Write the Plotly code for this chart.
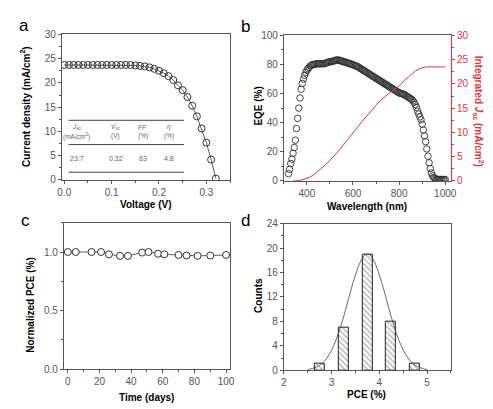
import plotly.graph_objects as go

# ---------------- data ----------------
# (a) J-V curve
jv_voltage = [0.00, 0.01, 0.02, 0.03, 0.04, 0.05, 0.06, 0.07, 0.08, 0.09, 0.10, 0.11,
              0.12, 0.13, 0.14, 0.15, 0.16, 0.17, 0.18, 0.19, 0.20, 0.21, 0.22, 0.23,
              0.24, 0.25, 0.26, 0.27, 0.28, 0.29, 0.30, 0.31, 0.32]
jv_current = [23.7, 23.7, 23.7, 23.7, 23.7, 23.7, 23.7, 23.7, 23.7, 23.7, 23.7, 23.7,
              23.7, 23.7, 23.7, 23.6, 23.5, 23.4, 23.2, 22.9, 22.5, 22.0, 21.4, 20.6,
              19.5, 18.5, 17.1, 15.3, 13.1, 10.6, 7.7, 4.2, 0.3]
table_headers = ["J<sub>sc</sub>", "V<sub>oc</sub>", "FF", "\u03b7"]
table_units = ["(mA/cm<sup>2</sup>)", "(V)", "(%)", "(%)"]
table_values = ["23.7", "0.32", "63", "4.8"]

# (b) EQE and integrated Jsc
eqe_wavelength = list(range(320, 1001, 5))
eqe_values = [5, 8, 12, 15, 19, 23, 28, 36, 43, 50,
              57, 63, 67, 70, 72.5, 74.5, 76, 77, 78, 79,
              79.5, 80, 80, 80, 80.5, 80.5, 80.5, 80.5, 80.5, 80.5,
              80.5, 80.5, 81, 81, 81.5, 81.5, 82, 82, 82, 82.5,
              82.5, 83, 83, 83, 83, 82.5, 82.5, 82, 82, 81.5,
              81.5, 81, 81, 80.5, 80.5, 80, 80, 79.5, 79, 79,
              78.5, 78, 77.5, 77, 76.5, 76, 75.5, 75, 74.5, 74,
              73.5, 73, 72.5, 72, 71.5, 71, 70.5, 70, 69.5, 69,
              68.5, 68, 67.5, 67, 66.5, 66, 65.5, 65, 64.5, 64,
              63.5, 63, 62.5, 62, 61.5, 61, 60.5, 60.2, 60, 59.8,
              59.5, 59, 58.5, 58, 57.5, 57, 56.5, 56, 55, 54,
              52.5, 50.5, 48, 46, 44, 42, 39, 35, 31, 27,
              22, 17, 12.5, 8.5, 5.5, 3.5, 2.5, 1.8, 1.3, 1,
              1, 1, 1, 1, 1, 1, 1]
jsc_wavelength = [340, 360, 380, 400, 420, 440, 460, 480, 500, 520, 540, 560, 580, 600,
                  620, 640, 660, 680, 700, 720, 740, 760, 780, 800, 820, 840, 860, 880,
                  900, 920, 940, 960, 980, 1000]
jsc_integrated = [0, 0.05, 0.25, 0.55, 1.0, 1.7, 2.5, 3.3, 4.3, 5.3, 6.3, 7.5, 8.7, 9.9,
                  11.1, 12.3, 13.4, 14.5, 15.6, 16.6, 17.4, 18.2, 18.9, 19.6, 20.6, 21.4, 22.2, 22.9,
                  23.3, 23.5, 23.5, 23.5, 23.5, 23.5]

# (c) stability
stab_days = [0, 5, 15, 21, 26, 33, 38, 47, 51, 57, 61, 70, 75, 82, 90, 100]
stab_pce = [1.0, 1.0, 1.0, 1.0, 0.98, 0.967, 0.967, 0.995, 1.0, 0.985, 0.98, 0.975,
            0.97, 0.967, 0.97, 0.975]

# (d) PCE histogram
hist_centers = [2.75, 3.25, 3.75, 4.25, 4.75]
hist_counts = [1, 7, 19, 8, 1]
fit_pce = [2.5, 2.6, 2.7, 2.8, 2.9, 3.0, 3.1, 3.2, 3.3, 3.4, 3.5, 3.6, 3.7,
           3.8, 3.9, 4.0, 4.1, 4.2, 4.3, 4.4, 4.5, 4.6, 4.7, 4.8, 4.9, 5.0]
fit_counts = [0.1, 0.3, 0.6, 1.1, 2.0, 3.3, 5.1, 7.4, 10.1, 13.0, 15.6, 17.7, 18.9,
              18.9, 17.7, 15.6, 13.0, 10.1, 7.4, 5.1, 3.3, 2.0, 1.1, 0.6, 0.3, 0.1]

# ---------------- styling ----------------
W, H = 493, 409
FONT = "Liberation Sans, Arial, sans-serif"
TICKF = dict(family=FONT, size=10, color="#555")
LINEC = "#555"
RED = "#e0343a"


def px(x0, x1):
    return [x0 / W, x1 / W]


def py(top, bottom):
    return [1 - bottom / H, 1 - top / H]


def axis(domain, rng, dtick, minor_dtick, anchor, fmt=None, mirror=True, color=LINEC, tickcolor=LINEC, font=TICKF, **kw):
    d = dict(domain=domain, range=rng, dtick=dtick, tick0=0, anchor=anchor,
             showline=True, linecolor=color, linewidth=1, mirror=mirror,
             ticks="outside", ticklen=3, tickwidth=1, tickcolor=tickcolor,
             minor=dict(dtick=minor_dtick, ticks="outside", ticklen=2, tickcolor=tickcolor),
             showgrid=False, zeroline=False, tickfont=font)
    if fmt:
        d["tickformat"] = fmt
    d.update(kw)
    return d


fig = go.Figure()

# (a)
fig.add_trace(go.Scatter(x=jv_voltage, y=jv_current, mode="lines+markers",
                         line=dict(color="#333", width=0.8),
                         marker=dict(symbol="circle-open", size=7, color="#333", line=dict(width=1)),
                         xaxis="x", yaxis="y", showlegend=False))
# (b)
fig.add_trace(go.Scatter(x=eqe_wavelength, y=eqe_values, mode="markers",
                         marker=dict(symbol="circle-open", size=6.5, color="#333", line=dict(width=0.9)),
                         xaxis="x2", yaxis="y2", showlegend=False))
fig.add_trace(go.Scatter(x=jsc_wavelength, y=jsc_integrated, mode="lines", line_shape="spline",
                         line=dict(color=RED, width=1), xaxis="x2", yaxis="y5", showlegend=False))
# (c)
fig.add_trace(go.Scatter(x=stab_days, y=stab_pce, mode="lines+markers",
                         line=dict(color="#333", width=0.8),
                         marker=dict(symbol="circle", size=7, color="white", line=dict(width=1, color="#333")),
                         xaxis="x3", yaxis="y3", showlegend=False))
# (d)
fig.add_trace(go.Bar(x=hist_centers, y=hist_counts, width=0.21,
                     marker=dict(color="white", line=dict(color="#222", width=1),
                                 pattern=dict(shape="\\", fgcolor="#555", size=4, solidity=0.3,
                                              fillmode="overlay")),
                     xaxis="x4", yaxis="y4", showlegend=False))
fig.add_trace(go.Scatter(x=fit_pce, y=fit_counts, mode="lines", line_shape="spline",
                         line=dict(color="#444", width=0.8), xaxis="x4", yaxis="y4", showlegend=False))

fig.update_layout(
    width=W, height=H, margin=dict(l=0, r=0, t=0, b=0),
    paper_bgcolor="white", plot_bgcolor="white", bargap=0,
    xaxis=axis(px(50, 222), [-0.005, 0.35], 0.1, 0.05, "y", fmt=".1f"),
    yaxis=axis(py(21, 171), [0, 30], 5, 2.5, "x"),
    xaxis2=axis(px(277, 448), [300, 1025], 200, 100, "y2"),
    yaxis2=axis(py(22, 172), [0, 100], 20, 10, "x2", mirror=False),
    yaxis5=axis(py(22, 172), [0, 30], 5, 2.5, "x2", mirror=False, color=RED, tickcolor=RED,
                font=dict(family=FONT, size=10, color=RED), overlaying="y2", side="right"),
    xaxis3=axis(px(52, 222), [-2.5, 102.5], 20, 10, "y3"),
    yaxis3=axis(py(215, 366), [0, 1.25], 0.5, 0.25, "x3", fmt=".1f"),
    xaxis4=axis(px(277, 448), [2, 5.5], 1, 0.5, "y4"),
    yaxis4=axis(py(216, 367), [0, 24], 4, 2, "x4"),
)

ann = []


def A(text, x, y, size=10, bold=True, color="black", angle=0, xref="paper", yref="paper", italic=False, xanchor="center"):
    t = text
    if bold:
        t = "<b>" + t + "</b>"
    if italic:
        t = "<i>" + t + "</i>"
    ann.append(dict(text=t, x=x / W if xref == "paper" else x, y=1 - y / H if yref == "paper" else y,
                    xref=xref, yref=yref, showarrow=False, textangle=angle, xanchor=xanchor,
                    yanchor="middle", font=dict(family=FONT, size=size, color=color)))


# panel letters
for lab, x, y in [("a", 11, 12), ("b", 238, 13), ("c", 13, 213), ("d", 238, 213)]:
    A(lab, x, y, size=17, bold=False)

# axis titles
A("Current density (mA/cm<sup>2</sup>)", 13, 95, size=10, angle=-90)
A("Voltage (V)", 136, 196)
A("EQE (%)", 251, 95, angle=-90)
A("Wavelength (nm)", 362, 198)
A("Integrated <i>J</i><sub>sc</sub> (mA/cm<sup>2</sup>)", 477, 100, color=RED, angle=90)
A("Normalized PCE (%)", 18, 300, angle=-90)
A("Time (days)", 137, 395)
A("Counts", 251, 290, angle=-90)
A("PCE (%)", 362, 392)

# inset table in panel (a)
col_v = [0.026, 0.109, 0.166, 0.222]
for i, v in enumerate(col_v):
    A(table_headers[i], v, 10.9, size=6.5, bold=False, color="#666", xref="x", yref="y", italic=True)
    A(table_units[i], v, 9.0, size=6.5, bold=False, color="#666", xref="x", yref="y")
    A(table_values[i], v, 4.4, size=7, bold=False, color="#666", xref="x", yref="y")

shapes = []
for yl in [12.3, 7.3, 1.6]:
    shapes.append(dict(type="line", xref="x", yref="y", x0=0.009, x1=0.253, y0=yl, y1=yl,
                       line=dict(color="#444", width=1)))

fig.update_layout(annotations=ann, shapes=shapes)
fig.write_html("out.html")
